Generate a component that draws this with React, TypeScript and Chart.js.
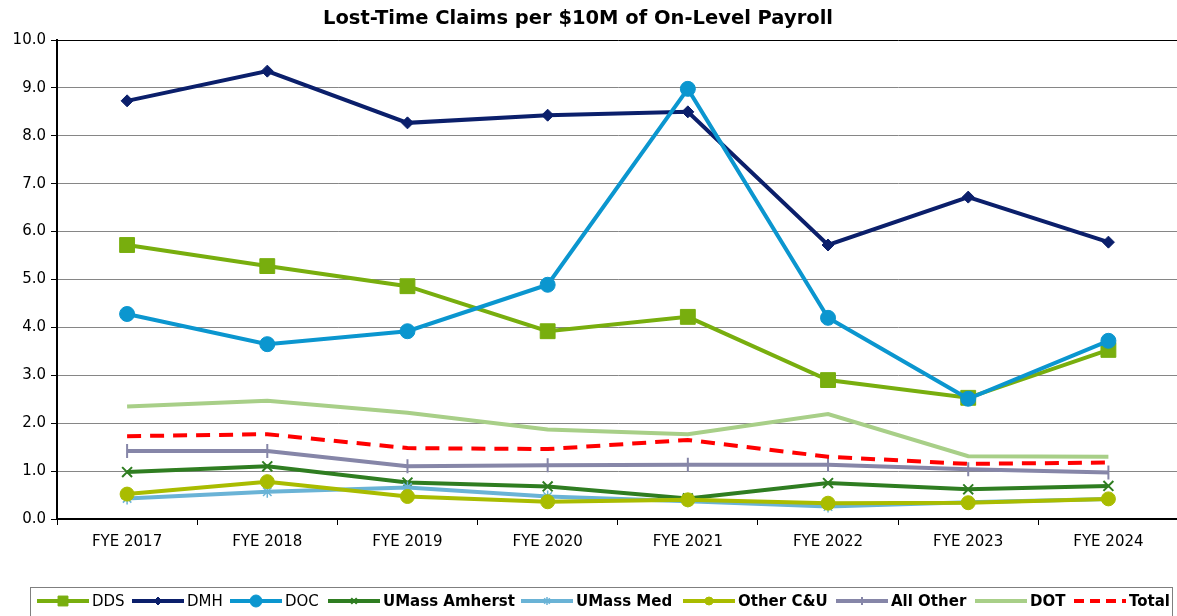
import React, { useEffect, useRef } from 'react';
import { Chart, registerables } from 'chart.js';
import { drawPoint } from 'chart.js/helpers';

Chart.register(...registerables);

const categories = ['FYE 2017', 'FYE 2018', 'FYE 2019', 'FYE 2020', 'FYE 2021', 'FYE 2022', 'FYE 2023', 'FYE 2024'];
const dds = [5.72, 5.28, 4.86, 3.92, 4.22, 2.9, 2.53, 3.53];
const dmh = [8.73, 9.35, 8.27, 8.43, 8.5, 5.72, 6.72, 5.78];
const doc = [4.28, 3.65, 3.92, 4.89, 8.98, 4.2, 2.51, 3.72];
const umassAmherst = [0.98, 1.1, 0.76, 0.68, 0.43, 0.75, 0.62, 0.69];
const umassMed = [0.43, 0.57, 0.66, 0.47, 0.37, 0.26, 0.35, 0.42];
const otherCU = [0.52, 0.78, 0.47, 0.36, 0.4, 0.33, 0.34, 0.42];
const allOther = [1.42, 1.42, 1.1, 1.12, 1.13, 1.13, 1.04, 0.97];
const dot = [2.35, 2.47, 2.22, 1.87, 1.77, 2.19, 1.31, 1.3];
const total = [1.73, 1.77, 1.48, 1.46, 1.65, 1.3, 1.15, 1.18];

const titleText = 'Lost-Time Claims per $10M of On-Level Payroll';
const FONT = 'Verdana, "DejaVu Sans", sans-serif';

type S = {
  label: string;
  data: number[];
  color: string;
  pointStyle: any;
  radius: number;
  bold: boolean;
  dash?: number[];
  pbw?: number;
  legendRadius?: number;
};

const series: S[] = [
  { label: 'DDS', data: dds, color: '#78AE0E', pointStyle: 'rect', radius: 10.5, bold: false, legendRadius: 7 },
  { label: 'DMH', data: dmh, color: '#0B1F6B', pointStyle: 'rectRot', radius: 6, bold: false, legendRadius: 4 },
  { label: 'DOC', data: doc, color: '#0B96CF', pointStyle: 'circle', radius: 7.5, bold: false, legendRadius: 6 },
  { label: 'UMass Amherst', data: umassAmherst, color: '#2F7D21', pointStyle: 'crossRot', radius: 7, bold: true, pbw: 2, legendRadius: 4 },
  { label: 'UMass Med', data: umassMed, color: '#6AB3D6', pointStyle: 'star', radius: 6, bold: true, pbw: 1.5, legendRadius: 4 },
  { label: 'Other C&U', data: otherCU, color: '#A9BC00', pointStyle: 'circle', radius: 7, bold: true, legendRadius: 4 },
  { label: 'All Other', data: allOther, color: '#8686A8', pointStyle: 'line', radius: 7, bold: true, pbw: 2, legendRadius: 4 },
  { label: 'DOT', data: dot, color: '#A8CF88', pointStyle: false, radius: 0, bold: true },
  { label: 'Total', data: total, color: '#FF0000', pointStyle: false, radius: 0, bold: true, dash: [14, 9] },
];

const legendStarts = [37, 132, 230, 328, 521, 683, 836, 975, 1074];

const customPlugin = {
  id: 'customDecor',
  afterDraw(chart: any) {
    const ctx = chart.ctx as CanvasRenderingContext2D;
    ctx.save();
    // title
    ctx.fillStyle = '#000';
    ctx.font = `bold 19.5px ${FONT}`;
    ctx.textAlign = 'center';
    ctx.textBaseline = 'middle';
    ctx.fillText(titleText, 578, 19);

    // legend box
    ctx.strokeStyle = '#7f7f7f';
    ctx.lineWidth = 1;
    ctx.strokeRect(30.5, 587.5, 1142, 40);

    const ly = 601;
    series.forEach((s, i) => {
      const x0 = legendStarts[i];
      const x1 = x0 + 52;
      ctx.save();
      ctx.strokeStyle = s.color;
      ctx.lineWidth = 4;
      ctx.lineCap = 'butt';
      if (s.dash) ctx.setLineDash([10, 6]);
      ctx.beginPath();
      ctx.moveTo(x0, ly);
      ctx.lineTo(x1, ly);
      ctx.stroke();
      ctx.setLineDash([]);
      if (s.pointStyle) {
        ctx.fillStyle = s.color;
        ctx.strokeStyle = s.color;
        ctx.lineWidth = s.pbw || 1;
        drawPoint(ctx, { pointStyle: s.pointStyle, radius: s.legendRadius || 4, rotation: s.pointStyle === 'line' ? 90 : 0, borderWidth: s.pbw || 1 } as any, (x0 + x1) / 2, ly);
      }
      ctx.restore();
      ctx.fillStyle = '#000';
      ctx.font = `${s.bold ? 'bold ' : ''}15px ${FONT}`;
      ctx.textAlign = 'left';
      ctx.textBaseline = 'middle';
      ctx.fillText(s.label, x1 + 3, ly + 1);
    });
    ctx.restore();
  },
};

export default function App() {
  const ref = useRef<HTMLCanvasElement | null>(null);

  useEffect(() => {
    document.body.style.margin = '0';
    const canvas = ref.current;
    if (!canvas) return;
    const n = series.length;
    const chart = new Chart(canvas, {
      type: 'line',
      data: {
        labels: categories,
        datasets: series.map((s, i) => ({
          label: s.label,
          data: s.data,
          borderColor: s.color,
          backgroundColor: s.color,
          borderWidth: 4,
          borderDash: s.dash || [],
          tension: 0,
          fill: false,
          pointStyle: s.pointStyle,
          pointRadius: s.radius,
          pointRotation: s.pointStyle === 'line' ? 90 : 0,
          pointBorderWidth: s.pbw || 1,
          pointBackgroundColor: s.color,
          pointBorderColor: s.color,
          order: n - i,
        })),
      },
      options: {
        responsive: false,
        animation: false,
        devicePixelRatio: 1,
        layout: { padding: { top: 40, right: 7, left: 0, bottom: 0 } },
        plugins: {
          legend: { display: false },
          title: { display: false },
          tooltip: { enabled: false },
        },
        scales: {
          x: {
            type: 'category',
            offset: true,
            border: { color: '#000', width: 2 },
            grid: { offset: true, drawOnChartArea: false, drawTicks: true, tickLength: 6, tickColor: '#000' },
            ticks: { color: '#000', font: { family: FONT, size: 15 }, padding: 8, maxRotation: 0 },
            afterFit: (scale: any) => { scale.height = 97; },
          },
          y: {
            min: 0,
            max: 10,
            border: { color: '#000', width: 2 },
            grid: {
              color: (c: any) => (c.tick && c.tick.value === 10 ? '#000' : '#868686'),
              lineWidth: 1,
              tickLength: 6,
              tickColor: '#000',
            },
            ticks: {
              stepSize: 1,
              color: '#000',
              font: { family: FONT, size: 15 },
              padding: 5,
              callback: (v: any) => Number(v).toFixed(1),
            },
            afterFit: (scale: any) => { scale.width = 57; },
          },
        },
      },
      plugins: [customPlugin],
    } as any);
    return () => chart.destroy();
  }, []);

  return (
    <div style={{ width: 1177, height: 616, overflow: 'hidden', position: 'relative' }}>
      <div style={{ width: 1190, height: 616, position: 'absolute', left: 0, top: 0 }}>
        <canvas ref={ref} width={1190} height={616} style={{ display: 'block', width: 1190, height: 616 }} />
      </div>
    </div>
  );
}
